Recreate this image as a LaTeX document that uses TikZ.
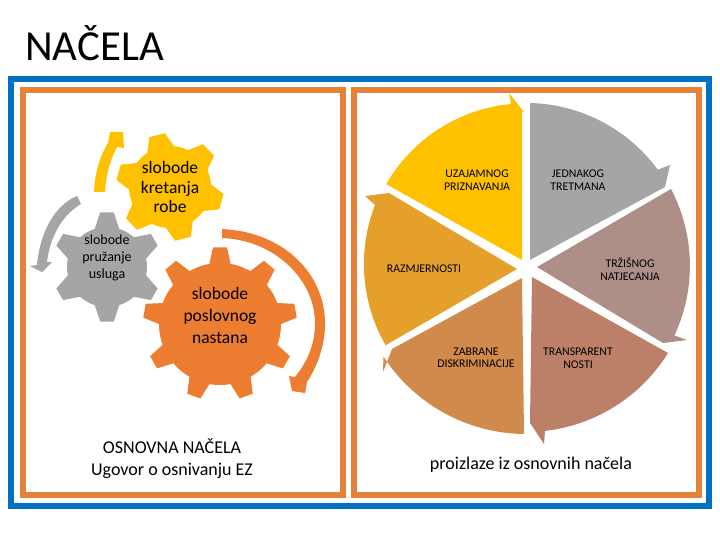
\documentclass[tikz,border=0pt]{standalone}
\usepackage{fontspec}
\setmainfont{Carlito}
\definecolor{frameblue}{HTML}{0070C0}
\definecolor{frameorange}{HTML}{E5823A}
\definecolor{cyellow}{HTML}{FFC000}
\definecolor{cgray}{HTML}{A5A5A5}
\definecolor{corange}{HTML}{ED7D31}
\definecolor{samber}{HTML}{E5A02C}
\definecolor{sgray}{HTML}{A5A5A5}
\definecolor{smauve}{HTML}{AE8F88}
\definecolor{srose}{HTML}{BC8069}
\definecolor{stan}{HTML}{D08A4C}
% centre x, centre y, body r, tip r, tooth count, first angle, base half-angle, tip half-angle, colour
\newcommand{\gearshape}[9]{%
  \begin{scope}[shift={(#1,#2)}]
    \fill[#9] (0,0) circle[radius=#3pt];
    \pgfmathsetmacro{\gstep}{360/#5}
    \pgfmathtruncatemacro{\glast}{#5-1}
    \foreach \gi in {0,...,\glast}{
      \pgfmathsetmacro{\ga}{#6+\gi*\gstep}
      \fill[#9] (\ga-#7:#3pt-1pt) -- (\ga-#8:#4pt) -- (\ga+#8:#4pt) -- (\ga+#7:#3pt-1pt) -- cycle;
    }
  \end{scope}}
\tikzset{
  lab/.style={align=center,text=black,inner sep=0pt},
  gearbig/.style={lab,font=\fontsize{17.5}{19.5}\selectfont},
  gearbigger/.style={lab,font=\fontsize{17.5}{22}\selectfont},
  gearsmall/.style={lab,font=\fontsize{14}{17}\selectfont},
  pielab/.style={lab,font=\fontsize{11.8}{12.5}\selectfont},
  caption/.style={lab,font=\fontsize{18}{22}\selectfont},
}
\begin{document}
\begin{tikzpicture}[x=1pt,y=-1pt]
\useasboundingbox (0,0) rectangle (720,540);
\fill[white] (0,0) rectangle (720,540);
\node[anchor=west,inner sep=0pt,font=\fontsize{42.8}{42}\selectfont] (title) at (25,43) {NAČELA};
% frames
\draw[frameblue,line width=6pt] (11,79) rectangle (709,506);
\draw[frameorange,line width=6pt] (23,90) rectangle (343,495);
\draw[frameorange,line width=6pt] (354,90) rectangle (699,495);
% gears
\gearshape{170}{187}{41}{54}{6}{104}{21}{8.5}{cyellow}
\gearshape{107}{267}{40}{55}{6}{90}{19}{7}{cgray}
\gearshape{220}{324}{61}{77}{9}{90}{10.5}{5.2}{corange}
% circular arrows
\fill[cyellow] (94,192) .. controls (95,172) and (100,156) .. (108,143) -- (110,132) -- (123,132) -- (124,148) -- (117,147) .. controls (110,160) and (106,175) .. (105,192) -- cycle;
\fill[cgray] (77,196) .. controls (55,205) and (40,232) .. (37,265) -- (30,266) -- (42,272) -- (52,262) -- (47,262) .. controls (50,237) and (62,215) .. (81,204) -- cycle;
\fill[corange] (222,229) .. controls (285,232) and (325,275) .. (325,323) .. controls (325,345) and (318,365) .. (307,382) -- (305,393) -- (292,391) -- (289,376) -- (295,377) .. controls (307,362) and (315,345) .. (315,323) .. controls (315,280) and (275,240) .. (222,238) -- cycle;
% pie sectors
\fill[cyellow] (522,260) -- (522,112) -- (524,112) -- (509,93) -- (511,104)
  arc[start angle=95.4,end angle=150,radius=161.7pt] -- cycle;
\fill[sgray] (530,260) -- (530,103)
  arc[start angle=88.6,end angle=36.3,radius=163.5pt] -- (670,165) -- (665,187) -- cycle;
\fill[smauve] (537,267) -- (671,189)
  arc[start angle=27.7,end angle=-25,radius=165pt] -- (687,340) -- (663,343) -- cycle;
\fill[srose] (532,277) -- (668,353)
  arc[start angle=-31.8,end angle=-83.5,radius=167pt] -- (544,444) -- (530,423) -- cycle;
\fill[stan] (522,278) -- (524,434)
  arc[start angle=-90.7,end angle=-147,radius=170pt] -- (383,372) -- (392,349) -- cycle;
\fill[samber] (517,269) -- (389,193) -- (365,196) -- (375,205)
  arc[start angle=158.7,end angle=210,radius=162.5pt] -- cycle;
% labels
\node[gearbig] (g1) at (170,187) {slobode\\kretanja\\robe};
\node[gearsmall] (g2) at (107,258) {slobode\\pružanje\\usluga};
\node[gearbigger] (g3) at (220,315) {slobode\\poslovnog\\nastana};
\node[caption] (c1) at (172,459) {OSNOVNA NAČELA\\Ugovor o osnivanju EZ};
\node[pielab] (p1) at (477,180) {UZAJAMNOG\\PRIZNAVANJA};
\node[pielab] (p2) at (578,180) {JEDNAKOG\\TRETMANA};
\node[pielab] (p3) at (630,269) {TRŽIŠNOG\\NATJECANJA};
\node[pielab] (p4) at (424,269) {RAZMJERNOSTI};
\node[pielab] (p5) at (476,358) {ZABRANE\\DISKRIMINACIJE};
\node[pielab] (p6) at (578,358) {TRANSPARENT\\NOSTI};
\node[caption] (c2) at (531,465) {proizlaze iz osnovnih načela};
\end{tikzpicture}
\end{document}
